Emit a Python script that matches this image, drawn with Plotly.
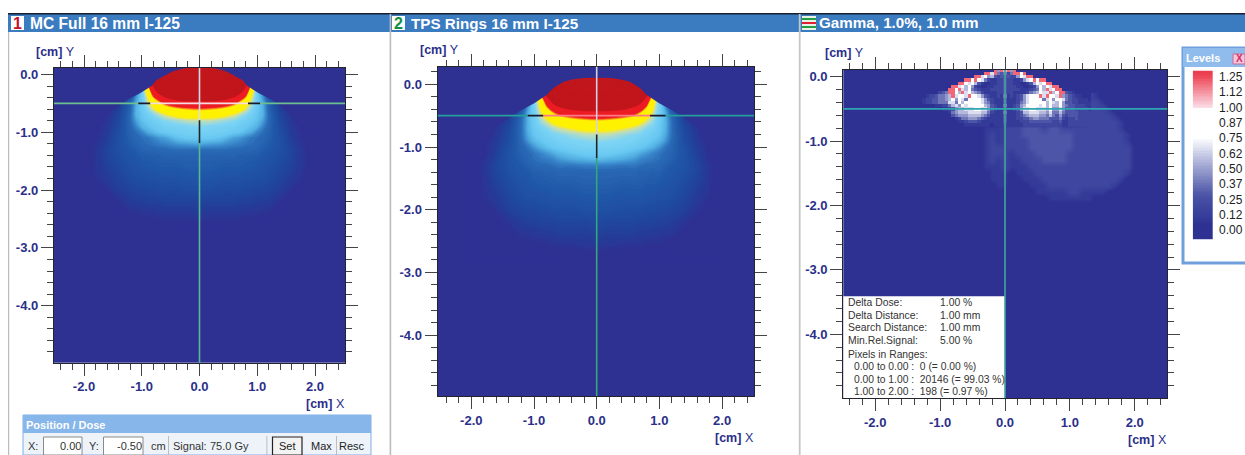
import numpy as np
import plotly.graph_objects as go

W, H = 1245, 455

# ---------- dose tables (Gy), half profile, mirrored about x = 0 ----------
dose_x = [0, .2, .4, .6, .7, .8, .9, 1.0, 1.1, 1.2, 1.4, 1.6, 1.8, 2.0]
dose_y = [.3, .1, -.1, -.2, -.3, -.4, -.5, -.6, -.7, -.8, -.9, -1.0, -1.1, -1.2, -1.3, -1.4,
          -1.6, -1.8, -2.0, -2.2, -2.4, -2.6, -2.8]
mc_dose = [
    [120, 120, 120, 120, 110, 100, 60, 30, 20, 10, 2, 0, 0, 0],
    [120, 120, 120, 120, 110, 100, 60, 30, 20, 10, 2, 0, 0, 0],
    [115, 115, 115, 110, 100, 92, 62, 34, 22, 12, 2, 0, 0, 0],
    [110, 110, 105, 100, 92, 82, 62, 36, 24, 13, 3, 0, 0, 0],
    [100, 100, 98, 92, 85, 74, 56, 38, 26, 14, 3, 0, 0, 0],
    [90, 90, 87, 80, 73, 65, 50, 38, 30, 18, 5, 1, 0, 0],
    [75, 75, 73, 68, 62, 54, 47, 38, 32, 22, 7, 2, 0, 0],
    [66, 65, 63, 58, 54, 49, 43, 37, 33, 23, 9, 3, 0, 0],
    [56, 55, 53, 49, 46, 43, 40, 36, 33, 24, 11, 4, 1, 0],
    [47, 47, 45, 43, 41, 39, 37, 35, 31, 24, 12, 5, 1, 0],
    [43, 42, 41, 40, 38, 37, 35, 33, 28, 23, 13, 6, 2, 0],
    [40, 40, 39, 37, 36, 34, 32, 28, 25, 22, 14, 7, 3, 0],
    [37, 37, 35, 31, 30, 28, 26, 25, 23, 21, 15, 8, 3, 0],
    [32, 31, 30, 28, 27, 26, 25, 24, 22, 20, 15, 9, 4, 0],
    [25, 25, 25, 24, 24, 23, 23, 22, 20, 18, 15, 10, 5, 1],
    [22, 22, 22, 22, 21, 21, 20, 20, 18, 17, 14, 10, 5, 1],
    [20, 20, 19, 19, 19, 18, 18, 17, 16, 15, 12, 9, 5, 0],
    [17, 17, 16, 16, 16, 15, 15, 14, 14, 13, 10, 7, 4, 0],
    [14, 14, 13, 13, 13, 12, 12, 11, 11, 10, 8, 4, 1, 0],
    [10, 10, 10, 10, 9, 9, 9, 8, 8, 7, 4, 1, 0, 0],
    [7, 6, 6, 6, 6, 5, 5, 5, 4, 4, 1, 0, 0, 0],
    [3, 3, 3, 3, 2, 2, 2, 2, 1, 1, 0, 0, 0, 0],
    [0, 0, 0, 0, 0, 0, 0, 0, 0, 0, 0, 0, 0, 0],
]
tps_dose = [
    [120, 120, 120, 120, 110, 100, 62, 34, 20, 10, 2, 0, 0, 0],
    [120, 120, 120, 120, 110, 100, 62, 34, 20, 10, 2, 0, 0, 0],
    [115, 115, 115, 108, 100, 92, 64, 36, 22, 12, 2, 0, 0, 0],
    [105, 105, 102, 98, 90, 80, 60, 38, 24, 13, 3, 0, 0, 0],
    [95, 95, 92, 88, 82, 70, 54, 40, 28, 15, 4, 0, 0, 0],
    [84, 84, 82, 76, 70, 62, 50, 40, 31, 19, 6, 1, 0, 0],
    [72, 71, 69, 65, 60, 53, 47, 39, 33, 23, 8, 2, 0, 0],
    [62, 61, 59, 55, 52, 48, 44, 38, 33, 25, 10, 3, 0, 0],
    [54, 53, 51, 48, 46, 43, 41, 37, 33, 25, 12, 5, 1, 0],
    [47, 47, 45, 43, 42, 40, 38, 36, 32, 25, 13, 6, 1, 0],
    [44, 43, 42, 41, 39, 38, 36, 34, 30, 24, 14, 7, 2, 0],
    [41, 41, 40, 38, 37, 35, 33, 30, 26, 23, 15, 8, 3, 0],
    [38, 38, 36, 34, 32, 30, 28, 26, 24, 22, 16, 9, 3, 0],
    [34, 33, 32, 30, 28, 27, 26, 25, 23, 21, 16, 10, 4, 0],
    [27, 27, 26, 26, 25, 24, 24, 23, 21, 19, 16, 11, 5, 1],
    [23, 23, 23, 23, 22, 22, 21, 21, 19, 18, 15, 11, 5, 1],
    [21, 21, 20, 20, 20, 19, 19, 18, 17, 16, 13, 9, 5, 0],
    [18, 18, 17, 17, 17, 16, 16, 15, 15, 14, 11, 7, 4, 0],
    [15, 15, 14, 14, 14, 13, 13, 12, 12, 11, 9, 5, 1, 0],
    [12, 11, 11, 11, 10, 10, 10, 9, 9, 8, 5, 2, 0, 0],
    [9, 8, 8, 8, 7, 7, 6, 6, 5, 5, 2, 0, 0, 0],
    [5, 5, 4, 4, 4, 3, 3, 3, 2, 2, 1, 0, 0, 0],
    [1, 1, 1, 1, 0, 0, 0, 0, 0, 0, 0, 0, 0, 0],
]
# outline of the dosed surface (half profile) - above it the phantom has no signal
mc_edge_x = [2.6, 1.9, 1.5, 1.26, 1.03, .83, .75, .62, .47, .3, .1, 0]
mc_edge_y = [-1.1, -1.0, -.62, -.44, -.325, -.2, -.1, -.03, .05, .1, .13, .13]
tps_edge_x = [2.6, 1.86, 1.6, 1.23, .99, .80, .69, .53, .37, .21, 0]
tps_edge_y = [-1.1, -1.05, -.67, -.43, -.30, -.17, -.06, .04, .08, .10, .105]
dose_stops = [(0, "#2e3192"), (3, "#2e3192"), (8, "#233f98"), (12, "#1f4aa0"), (18, "#2058a8"),
              (24, "#2a6ab5"), (28, "#3a88cc"), (32, "#52aee0"), (36, "#68c8f2"), (42, "#7dd4f4"),
              (46, "#b8dcc0"), (49, "#e8e460"), (50.5, "#fff200"), (63, "#fff200"), (65, "#f7941d"),
              (67, "#ed1c24"), (79.5, "#ed1c24"), (80.5, "#c1161c"), (120, "#c1161c")]

# ---------- gamma index, digit = gamma / step, R = above 1.0 ----------
gamma_fine_x0, gamma_fine_dx = -1.30, 0.05
gamma_fine_y = [.10, .05, 0, -.05, -.10, -.15, -.20, -.25, -.30, -.35, -.40, -.45, -.50, -.55, -.60, -.65, -.70, -.75]
gamma_fine = [
    "00000000000000000000000R5R" "6" "R5R00000000000000000000000",
    "00000000000000000000RR7R43" "4" "24RR8R00000000000000000000",
    "00000000000000000RR7856323" "3" "322587RR000000000000000000",
    "00000000000000RR8R97421122" "3" "221125" "79R8RR" "00000000000000",
    "000000000000RR879631001122" "3" "22110013697" "8RR" "000000000000",
    "0000000000RR78685210011222" "3" "2221100125868" "7RR" "0000000000",
    "000000000RR9R7684321112222" "3" "222211123486R79" "RR" "000000000",
    "000000234RR86R796542111122" "3" "2211112456977R68RR32100000",
    "0012234456R7897R8975321121" "4" "1212357989R7R897R543211000",
    "01223344568597498987532111" "3" "1112357898947958" "97" "4322" "1110",
    "01223344477486898987542111" "3" "11124578989868" "7695" "33221111",
    "00000112246758788898653211" "4" "11235689887868" "6695" "43322211",
    "00000001123566777887753211" "3" "11235778877768" "5575" "33322221",
    "00000000014566677776642111" "4" "11123667776657" "4464" "33332222",
    "00000000003455566665431111" "3" "11123456665546" "4353" "23332222",
    "00000000000124455543211111" "3" "11122334554443" "3342" "12232222",
    "00000000000011233321111111" "3" "11112223333333" "2231" "12222222",
    "00000000000000111111110111" "2" "11111222222222" "2221" "12222222",
]
gamma_coarse_x0, gamma_coarse_dx = -.4, 0.1
gamma_coarse_y = [-.3, -.4, -.5, -.6, -.7, -.8, -.9, -1.0, -1.1, -1.2, -1.3, -1.4, -1.5, -1.6, -1.7, -1.8, -1.9, -2.0]
gamma_coarse = [
    "00000000000000000" "21000000",
    "00000000000000000" "22100000",
    "00000000000000000" "22210000",
    "00000000000000000" "22221000",
    "00000000000000000" "22222100",
    "0111" "2" "223332332222" "22222100",
    "0121" "2" "223333333322" "22222210",
    "0121" "2" "222333333322" "22222210",
    "0122" "2" "222333333322" "22222220",
    "0122" "2" "122233333222" "22222220",
    "0121" "2" "112223333222" "22222220",
    "0111" "2" "111222222222" "22222220",
    "0011" "1" "011122222222" "22222210",
    "0011" "1" "001112222222" "22222100",
    "0001" "1" "000111222222" "22221000",
    "0000" "0" "000011111221" "11100000",
    "0000" "0" "000000111111" "10000000",
    "0000" "0" "000000000000" "00000000",
]
gamma_digit_step = 0.095
gamma_red_value = 1.2
level_ticks = [0.00, 0.125, 0.25, 0.375, 0.50, 0.625, 0.75, 0.875, 1.00, 1.125, 1.25]
level_labels = ["0.00", "0.12", "0.25", "0.37", "0.50", "0.62", "0.75", "0.87", "1.00", "1.12", "1.25"]
level_stops = [(0, "#2e3192"), (.05, "#2e3192"), (.10, "#353b99"), (.19, "#3e469f"), (.28, "#4a53a6"),
               (.38, "#6e76b8"), (.5, "#9aa0cf"),
               (.62, "#c8cce6"), (.75, "#ffffff"), (.99, "#ffffff"), (1.0, "#fbdde6"), (1.25, "#ee4a5a"), (1.3, "#e83a4c")]

# ---------- axis tick labels ----------
x_ticks, x_labels = [-2, -1, 0, 1, 2], ["-2.0", "-1.0", "0.0", "1.0", "2.0"]
y_ticks, y_labels = [0, -1, -2, -3, -4], ["0.0", "-1.0", "-2.0", "-3.0", "-4.0"]

# ---------- text ----------
panel_titles = ["MC Full 16 mm I-125", "TPS Rings 16 mm I-125", "Gamma, 1.0%, 1.0 mm"]
gamma_info = [("Delta Dose:", "1.00 %"), ("Delta Distance:", "1.00 mm"), ("Search Distance:", "1.00 mm"),
              ("Min.Rel.Signal:", "5.00 %")]
gamma_ranges = ["Pixels in Ranges:", "  0.00 to 0.00 :  0 (= 0.00 %)", "  0.00 to 1.00 :  20146 (= 99.03 %)",
                "  1.00 to 2.00 :  198 (= 0.97 %)"]
cross_x, cross_y = 0.0, -0.5

NAVY = "#2e3192"
INK = "#2a2f8a"
FONT = "Liberation Sans, Arial, sans-serif"


def scale(stops, top):
    return [[min(z / top, 1), c] for z, c in stops]


def px(x, y):
    return x / W, 1 - y / H


fig = go.Figure()

geo = {
    "1": dict(l=54, r=345, t=68, b=362.7, x0=199.5, sx=57.75, y0=74.5, sy=57.8),
    "2": dict(l=437.7, r=754, t=66.7, b=396, x0=596.7, sx=62.7, y0=84.3, sy=62.7),
    "3": dict(l=843.3, r=1167.3, t=70, b=398, x0=1005, sx=64.9, y0=76.7, sy=64.4),
}
layout = {}
for k, g in geo.items():
    sfx = "" if k == "1" else k
    common = dict(showgrid=False, zeroline=False, showline=True, linecolor="#22242e", linewidth=1.3,
                  mirror="allticks", ticks="outside", ticklen=12, tickwidth=1, tickcolor="#444448",
                  tickfont=dict(family=FONT, size=13, color=INK, weight="bold"),
                  minor=dict(ticks="outside", ticklen=6, tickwidth=1, tickcolor="#444448", tick0=0, dtick=0.2))
    layout["xaxis" + sfx] = dict(common, domain=[g["l"] / W, g["r"] / W], anchor="y" + sfx,
                                 range=[(g["l"] - g["x0"]) / g["sx"], (g["r"] - g["x0"]) / g["sx"]],
                                 tickmode="array", tickvals=x_ticks, ticktext=x_labels)
    layout["yaxis" + sfx] = dict(common, domain=[1 - g["b"] / H, 1 - g["t"] / H], anchor="x" + sfx,
                                 range=[-(g["b"] - g["y0"]) / g["sy"], -(g["t"] - g["y0"]) / g["sy"]],
                                 tickmode="array", tickvals=y_ticks, ticktext=y_labels)

# dose maps
full_x = [-v for v in dose_x[:0:-1]] + dose_x
for table, ex, ey, xa, ya in [(mc_dose, mc_edge_x, mc_edge_y, "x", "y"), (tps_dose, tps_edge_x, tps_edge_y, "x2", "y2")]:
    z = [row[:0:-1] + row for row in table]
    fig.add_trace(go.Contour(x=full_x, y=dose_y, z=z, xaxis=xa, yaxis=ya, showscale=False, hoverinfo="skip",
                             autocontour=False, contours=dict(start=1, end=120, size=1, coloring="fill", showlines=False),
                             line=dict(width=0), colorscale=scale(dose_stops, 120)))
    cap_x = [-v for v in ex] + ex[-2::-1] + [2.6, -2.6]
    cap_y = list(ey) + ey[-2::-1] + [.6, .6]
    fig.add_trace(go.Scatter(x=cap_x, y=cap_y, xaxis=xa, yaxis=ya, mode="lines", fill="toself",
                             fillcolor=NAVY, line=dict(width=0, color=NAVY), hoverinfo="skip", showlegend=False))


def gamma_values(rows):
    return [[gamma_red_value if c == "R" else int(c) * gamma_digit_step for c in r] for r in rows]


gamma_cs = scale(level_stops, 1.3)
fig.add_trace(go.Heatmap(z=gamma_values(gamma_coarse), x0=gamma_coarse_x0, dx=gamma_coarse_dx, y=gamma_coarse_y,
                         xaxis="x3", yaxis="y3", zmin=0, zmax=1.3, colorscale=gamma_cs, showscale=False,
                         zsmooth="best", hoverinfo="skip"))
fig.add_trace(go.Heatmap(z=gamma_values(gamma_fine), x0=gamma_fine_x0, dx=gamma_fine_dx, y=gamma_fine_y,
                         xaxis="x3", yaxis="y3", zmin=0, zmax=1.3, colorscale=gamma_cs, showscale=False,
                         zsmooth=False, hoverinfo="skip"))

# levels legend
leg = dict(l=1192.7, r=1213, t=70.7, b=239.3)
leg_vals = [round(-0.075 + 0.0125 * i, 4) for i in range(111)]
fig.add_trace(go.Heatmap(z=[[v] for v in leg_vals], y=leg_vals, x=[0], xaxis="x4", yaxis="y4", zmin=0, zmax=1.3,
                         colorscale=gamma_cs, showscale=False, hoverinfo="skip"))
layout["xaxis4"] = dict(domain=[leg["l"] / W, leg["r"] / W], anchor="y4", visible=False, range=[-.5, .5])
layout["yaxis4"] = dict(domain=[1 - leg["b"] / H, 1 - leg["t"] / H], anchor="x4", side="right", range=[-0.075, 1.3],
                        showgrid=False, zeroline=False, showline=False, ticks="", tickmode="array",
                        tickvals=level_ticks, ticktext=level_labels, ticklabelposition="outside",
                        ticklabelstandoff=5, tickfont=dict(family=FONT, size=12, color="#222"))

shapes, ann = [], []


def rect(x0, y0, x1, y1, fill="rgba(0,0,0,0)", line=None, lw=0, layer="below"):
    a, b = px(x0, y0)
    c, d = px(x1, y1)
    shapes.append(dict(type="rect", xref="paper", yref="paper", x0=a, y0=d, x1=c, y1=b, fillcolor=fill, layer=layer,
                       line=dict(color=line or fill, width=lw)))


def text(x, y, s, size=11, color="#333", anchor="left", weight="normal", family=FONT):
    off = {"left": -1.5, "right": 1.5, "center": 0}[anchor]
    a, b = px(x + off, y)
    ann.append(dict(xref="paper", yref="paper", x=a, y=b, text=s, showarrow=False, xanchor=anchor, yanchor="middle",
                    align=anchor, font=dict(family=family, size=size, color=color, weight=weight)))


# window frame
rect(8, 14, W, 32, fill="#3b7bc0")
rect(8, 13, W, 14.4, fill="#1a2030")
rect(8, 32, 9.2, H, fill="#b9bdb9")
rect(389.6, 14, 391.2, H, fill="#b9bdb9")
rect(798.8, 14, 800.6, H, fill="#c4c8c4")
# title icons and titles
rect(11, 16, 24, 30, fill="#ffffff")
text(17.5, 23, "1", 16, "#c8102a", "center", "bold")
rect(392, 16, 405, 30, fill="#ffffff")
text(398.5, 23, "2", 16, "#109040", "center", "bold")
rect(802, 16, 816, 30, fill="#e8f0e8")
for i, c in enumerate(["#20a040", "#e02030", "#20a040"]):
    rect(802, 18 + 4 * i, 816, 20 + 4 * i, fill=c)
text(29, 23, panel_titles[0], 15.6, "#ffffff", weight="bold")
text(410, 23, panel_titles[1], 15.2, "#ffffff", weight="bold")
text(818, 22.5, panel_titles[2], 15.2, "#ffffff", weight="bold")
# axis captions
for x, y in [(35, 51.5), (419, 50), (824, 53)]:
    text(x, y, "<b>[cm]</b> Y", 12.5, INK)
for x, y in [(345, 404), (754.5, 437.5), (1167.5, 440)]:
    text(x, y, "<b>[cm]</b> X", 12.5, INK, "right")

# crosshair segments (colour inverts over the hot region)
xcross = [("x", "y", -2.6, -1.06, "#6cc090"), ("x", "y", -1.06, -.85, "#1a1a2a"), ("x", "y", -.85, .84, "#f4dce0"),
          ("x", "y", .84, 1.05, "#1a1a2a"), ("x", "y", 1.05, 2.6, "#6cc090"),
          ("x2", "y2", -2.6, -1.1, "#25a09a"), ("x2", "y2", -1.1, -.85, "#1a1a2a"), ("x2", "y2", -.85, .85, "#ff7a88"),
          ("x2", "y2", .85, 1.1, "#1a1a2a"), ("x2", "y2", 1.1, 2.6, "#25a09a"),
          ("x3", "y3", -2.6, 2.6, "#2fa6b0")]
ycross = [("x", "y", .2, -.79, "#d8dce4"), ("x", "y", -.79, -1.19, "#20252a"), ("x", "y", -1.19, -5.1, "#58b894"),
          ("x2", "y2", .4, -.8, "#d8cfe0"), ("x2", "y2", -.8, -1.18, "#20252a"), ("x2", "y2", -1.18, -5.1, "#33a878"),
          ("x3", "y3", .2, -5.1, "#3fa896")]
# text box in the gamma panel
shapes.append(dict(type="rect", xref="x3", yref="y3", x0=-2.6, x1=0, y0=-5.0, y1=-3.41, fillcolor="#ffffff",
                   line=dict(width=0), layer="above"))
for xa, ya, a, b, c in xcross:
    shapes.append(dict(type="line", xref=xa, yref=ya, x0=a, x1=b, y0=cross_y, y1=cross_y,
                       line=dict(color=c, width=1.6), layer="above"))
for xa, ya, a, b, c in ycross:
    shapes.append(dict(type="line", xref=xa, yref=ya, x0=cross_x, x1=cross_x, y0=a, y1=b,
                       line=dict(color=c, width=1.6), layer="above"))

# gamma info text
for i, (a, b) in enumerate(gamma_info):
    yy = 302.7 + i * 12.6
    text(847.5, yy, a, 10.4, "#333")
    text(939, yy, b, 10.4, "#333")
for i, s in enumerate(gamma_ranges):
    text(847.5 if i == 0 else 853, 354 + i * 12.6, s.strip(), 10.3, "#333")

# position / dose panel
rect(23, 415, 371, 455, fill="#eef3fa", line="#7fb0e4", lw=1)
rect(23, 415, 371, 433, fill="#86b6ea")
text(25, 424.5, "Position / Dose", 11, "#ffffff", weight="bold")
text(27, 446, "X:", 11, "#333")
rect(43.5, 437, 82, 455, fill="#ffffff", line="#8a8a8a", lw=1)
text(81, 445.5, "0.00", 11, "#333", "right")
text(88, 446, "Y:", 11, "#333")
rect(103.5, 437, 143, 455, fill="#ffffff", line="#8a8a8a", lw=1)
text(142, 445.5, "-0.50", 11, "#333", "right")
text(150, 446, "cm", 11, "#333")
rect(168, 436, 168.8, 455, fill="#b0b0b0")
text(172, 446, "Signal:", 11, "#333")
text(209, 446, "75.0 Gy", 11, "#333")
rect(266.5, 436, 267.3, 455, fill="#b0b0b0")
rect(272.5, 437, 302, 455, fill="#f3f3f3", line="#222222", lw=1.2)
text(287, 446, "Set", 11, "#222", "center")
text(321, 446, "Max", 11, "#222", "center")
rect(336, 436, 336.8, 455, fill="#b0b0b0")
text(352, 446, "Resc", 11, "#222", "center")

# levels window
rect(1183, 48, W + 2, 263, fill="#ffffff", line="#6f9fdc", lw=3)
rect(1183, 48, W + 2, 67, fill="#8fbcec")
text(1185, 58.5, "Levels", 11, "#ffffff", weight="bold")
rect(1233, 54, 1245, 64, fill="#f6c4dc", line="#c86a9a", lw=1)
text(1239, 59, "X", 10, "#d03060", "center", "bold")

fig.update_layout(width=W, height=H, autosize=False, margin=dict(l=0, r=0, t=0, b=0), paper_bgcolor="#ffffff",
                  plot_bgcolor=NAVY, showlegend=False, shapes=shapes, annotations=ann, **layout)
fig.write_html("out.html", post_script="document.body.style.margin='0';document.body.style.overflow='hidden';",
               config=dict(displayModeBar=False))
